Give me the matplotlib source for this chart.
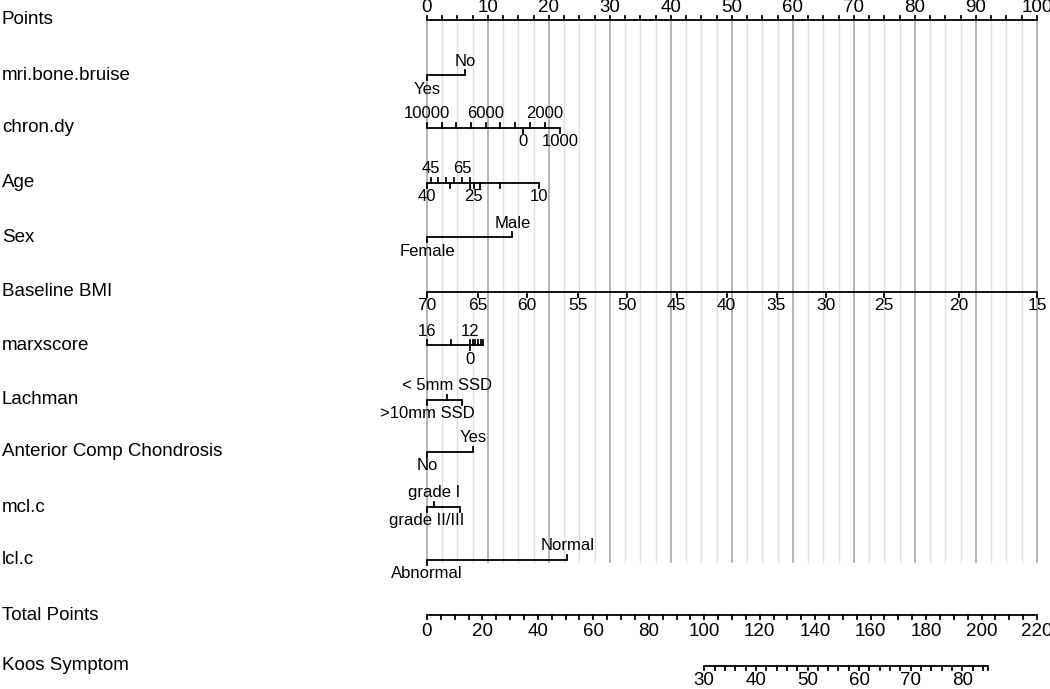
import matplotlib
matplotlib.use("Agg")
import matplotlib.pyplot as plt
import numpy as np

plt.rcParams['font.family'] = ['Liberation Sans', 'DejaVu Sans']

# ---- data (points scale 0-100) ----
row_names = ["Points", "mri.bone.bruise", "chron.dy", "Age", "Sex", "Baseline BMI",
             "marxscore", "Lachman", "Anterior Comp Chondrosis", "mcl.c", "lcl.c",
             "Total Points", "Koos Symptom"]

mri_labels = ["Yes", "No"]
mri_points = [0, 6.3]
mri_sides = ["below", "above"]

chron_values = [10000, 9000, 8000, 7000, 6000, 5000, 4000, 3000, 2000, 1000, 0]
chron_points = [0, 2.4, 4.75, 7.2, 9.67, 12.0, 14.4, 16.9, 19.3, 21.8, 15.7]
chron_shown = [10000, 6000, 2000, 1000, 0]
chron_sides = ["above"] * 9 + ["below", "below"]

age_values = [40, 45, 50, 55, 60, 65, 70, 35, 30, 25, 20, 15, 10]
age_points = [0, 0.6, 1.85, 3.15, 4.4, 5.75, 7.1, 3.7, 7.1, 7.65, 8.75, 11.9, 18.3]
age_shown = [40, 45, 65, 25, 10]
age_sides = ["below"] + ["above"] * 6 + ["below"] * 6

sex_labels = ["Female", "Male"]
sex_points = [0, 14.0]
sex_sides = ["below", "above"]

bmi_values = [70, 65, 60, 55, 50, 45, 40, 35, 30, 25, 20, 15]
bmi_points = [0, 8.3, 16.4, 24.7, 32.8, 40.95, 49.1, 57.3, 65.4, 74.95, 87.2, 100]

marx_values = [16, 14, 12, 10, 8, 6, 4, 2, 0]
marx_points = [0, 3.9, 7.1, 7.5, 7.9, 8.35, 8.8, 9.2, 7.1]
marx_shown = [16, 12, 0]
marx_sides = ["above"] * 8 + ["below"]

lach_labels = [">10mm SSD", "< 5mm SSD", ""]
lach_points = [0, 3.3, 5.8]
lach_sides = ["below", "above", "below"]

acc_labels = ["No", "Yes"]
acc_points = [0, 7.6]
acc_sides = ["below", "above"]

mcl_labels = ["grade II/III", "grade I", ""]
mcl_points = [0, 1.2, 5.45]
mcl_sides = ["below", "above", "below"]

lcl_labels = ["Abnormal", "Normal"]
lcl_points = [0, 23.0]
lcl_sides = ["below", "above"]

total_max = 220
total_ticks = np.arange(0, 221, 5)
total_labels = np.arange(0, 221, 20)

koos_ends = [30, 85]
koos_ends_total = [100, 202.4]
koos_ticks = list(range(30, 85, 2)) + [85]
koos_labels = list(range(30, 81, 10))

# ---- layout (pixel coordinates on a 1050x689 canvas) ----
PX_PER_PT = 6.1
X0 = 427
row_y = [20, 75, 128, 182.5, 237, 292, 345, 400, 452, 507, 560, 615, 666]
LAB_FS = 13.5
TICK_FS = 12
AXIS_FS = 13.5


def draw_scale(ax, y, points, labels, sides, tick=5, off=14, fs=TICK_FS):
    """Draws one nomogram scale: a line with ticks and labels above/below"""
    ax.plot([min(points), max(points)], [y, y], color='black', lw=1.3,
            solid_capstyle='butt', zorder=3)
    for p, lab, side in zip(points, labels, sides):
        d = -1 if side == "above" else 1
        ax.plot([p, p], [y, y + d * tick], color='black', lw=1.3, zorder=3)
        if lab != "":
            ax.text(p, y + d * off, lab, ha='center', va='center',
                    fontsize=fs, zorder=4)


fig = plt.figure(figsize=(10.5, 6.89), dpi=100)
ax = fig.add_axes([0, 0, 1, 1])
ax.set_xlim(-X0 / PX_PER_PT, (1050 - X0) / PX_PER_PT)
ax.set_ylim(689, 0)
ax.axis('off')

# row names
for name, y in zip(row_names, row_y):
    ax.text(-X0 / PX_PER_PT + 0.3, y, name, ha='left', va='center', fontsize=LAB_FS)

# vertical reference lines
for p in np.arange(0, 100.1, 2.5):
    major = p % 10 == 0
    ax.plot([p, p], [row_y[0], 562], color='#b0b0b0' if major else '#e0e0e0',
            lw=1.3 if major else 1.0, zorder=1)

# points axis
pts_ticks = np.arange(0, 100.1, 2.5)
pts_labels = [str(int(p)) if p % 10 == 0 else "" for p in pts_ticks]
draw_scale(ax, row_y[0], pts_ticks, pts_labels, ["above"] * len(pts_ticks),
           tick=4, off=12, fs=AXIS_FS)

draw_scale(ax, row_y[1], mri_points, mri_labels, mri_sides)
draw_scale(ax, row_y[2], chron_points,
           [str(v) if v in chron_shown else "" for v in chron_values], chron_sides)
draw_scale(ax, row_y[3], age_points,
           [str(v) if v in age_shown else "" for v in age_values], age_sides)
draw_scale(ax, row_y[4], sex_points, sex_labels, sex_sides)
draw_scale(ax, row_y[5], bmi_points, [str(v) for v in bmi_values],
           ["below"] * len(bmi_values), fs=12.5)
draw_scale(ax, row_y[6], marx_points,
           [str(v) if v in marx_shown else "" for v in marx_values], marx_sides)
draw_scale(ax, row_y[7], lach_points, lach_labels, lach_sides)
draw_scale(ax, row_y[8], acc_points, acc_labels, acc_sides)
draw_scale(ax, row_y[9], mcl_points, mcl_labels, mcl_sides)
draw_scale(ax, row_y[10], lcl_points, lcl_labels, lcl_sides)

# total points axis (0-220 mapped onto 0-100)
tp_x = total_ticks * 100 / total_max
draw_scale(ax, row_y[11], tp_x,
           [str(v) if v in total_labels else "" for v in total_ticks],
           ["below"] * len(tp_x), tick=4, off=16, fs=AXIS_FS)

# Koos symptom axis
koos_total = np.interp(koos_ticks, koos_ends, koos_ends_total)
draw_scale(ax, row_y[12], koos_total * 100 / total_max,
           [str(v) if v in koos_labels else "" for v in koos_ticks],
           ["below"] * len(koos_ticks), tick=4, off=14.5, fs=AXIS_FS)

fig.savefig("out.png", dpi=100)
